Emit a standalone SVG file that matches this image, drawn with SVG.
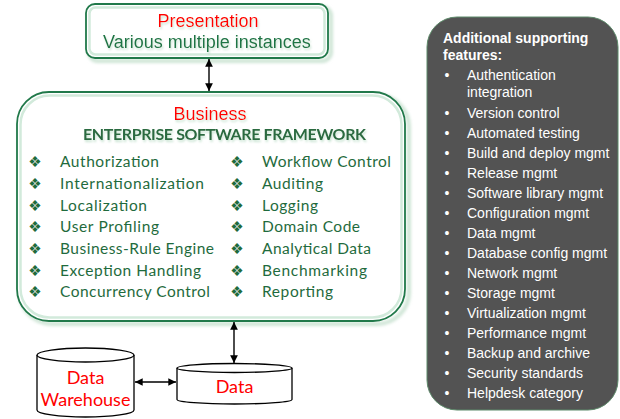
<svg xmlns="http://www.w3.org/2000/svg" width="620" height="419" viewBox="0 0 620 419">
  <defs>
    <style>
      .frame { fill: #ffffff; stroke: #21794a; stroke-width: 1.8; }
      .inner { fill: none; stroke: #d2eadb; stroke-width: 2.5; }
      .halo { fill: none; stroke: #cfe5d6; stroke-width: 4; }
      .red { fill: #ff0000; font-family: "Liberation Sans", Arial, sans-serif; }
      .grn { fill: #1f7545; font-family: "Liberation Sans", Arial, sans-serif; }
      .head { fill: #2a6a3f; font-family: Lato, "Open Sans", sans-serif; font-weight: bold; }
      .item { fill: #1f6b3d; font-family: Lato, "Open Sans", sans-serif; font-size: 15.5px; }
      .dia { fill: #1f6b3d; font-family: "DejaVu Sans", sans-serif; font-size: 15px; }
      .side { fill: #ffffff; font-family: "Liberation Sans", Arial, sans-serif; font-size: 14px; }
      .dot { fill: #ffffff; font-family: "Liberation Sans", Arial, sans-serif; font-size: 14px; }
      .cyl { fill: #ffffff; stroke: #000000; stroke-width: 1.3; }
      .db { fill: #ff0000; font-family: Lato, "Open Sans", sans-serif; font-size: 18px; text-anchor: middle; }
      .link { fill: none; stroke: #000000; stroke-width: 1.4; }
    </style>
    <filter id="soft" x="-10%" y="-10%" width="120%" height="130%">
      <feGaussianBlur stdDeviation="1.5"/>
    </filter>
    <filter id="tshadow" x="-5%" y="-30%" width="110%" height="170%">
      <feDropShadow dx="1" dy="2" stdDeviation="1" flood-color="#9ccfae" flood-opacity="0.55"/>
    </filter>
    <marker id="tip" viewBox="0 0 10 10" refX="10" refY="5" markerWidth="5.5" markerHeight="5.5" orient="auto-start-reverse">
      <path d="M0,0 L10,5 L0,10 z" fill="#000000"/>
    </marker>
  </defs>

  <!-- presentation tier -->
  <g id="presentation">
    <rect x="89" y="7" width="242" height="54" rx="9" class="halo" filter="url(#soft)"/>
    <rect x="86" y="4" width="242" height="54" rx="9" class="frame"/>
    <rect x="89.5" y="7.5" width="235" height="47" rx="6" class="inner"/>
    <g filter="url(#tshadow)">
      <text x="208" y="27" class="red" font-size="18" text-anchor="middle">Presentation</text>
      <text x="207" y="48" class="grn" font-size="18" text-anchor="middle">Various multiple instances</text>
    </g>
  </g>

  <!-- business tier -->
  <g id="business">
    <rect x="20" y="95" width="389" height="229" rx="32" class="halo" filter="url(#soft)"/>
    <rect x="17" y="92" width="388" height="229" rx="32" class="frame"/>
    <rect x="20.5" y="95.5" width="381" height="222" rx="29" class="inner"/>
    <g filter="url(#tshadow)">
      <text x="210" y="120" class="red" font-size="18" text-anchor="middle">Business</text>
      <text x="83" y="140" class="head" font-size="16" textLength="283">ENTERPRISE SOFTWARE FRAMEWORK</text>
    </g>
    <g class="dia" text-anchor="middle">
      <text x="35" y="167">❖</text><text x="35" y="189">❖</text><text x="35" y="211">❖</text>
      <text x="35" y="232">❖</text><text x="35" y="254">❖</text><text x="35" y="276">❖</text>
      <text x="35" y="297">❖</text>
      <text x="237" y="167">❖</text><text x="237" y="189">❖</text><text x="237" y="211">❖</text>
      <text x="237" y="232">❖</text><text x="237" y="254">❖</text><text x="237" y="276">❖</text>
      <text x="237" y="297">❖</text>
    </g>
    <g class="item">
      <text x="60" y="167" textLength="99">Authorization</text>
      <text x="60" y="189" textLength="144">Internationalization</text>
      <text x="60" y="211" textLength="87">Localization</text>
      <text x="60" y="232" textLength="99">User Profiling</text>
      <text x="60" y="254" textLength="154">Business-Rule Engine</text>
      <text x="60" y="276" textLength="141">Exception Handling</text>
      <text x="60" y="297" textLength="150">Concurrency Control</text>
      <text x="262" y="167" textLength="129">Workflow Control</text>
      <text x="262" y="189" textLength="61">Auditing</text>
      <text x="262" y="211" textLength="56">Logging</text>
      <text x="262" y="232" textLength="98">Domain Code</text>
      <text x="262" y="254" textLength="109">Analytical Data</text>
      <text x="262" y="276" textLength="105">Benchmarking</text>
      <text x="262" y="297" textLength="71">Reporting</text>
    </g>
  </g>

  <!-- supporting features panel -->
  <g id="features">
    <rect x="427" y="17" width="191" height="393" rx="30" fill="#535353" stroke="#5d8a6a" stroke-width="1"/>
    <text x="443" y="43" class="side" font-weight="bold">Additional supporting</text>
    <text x="443" y="60" class="side" font-weight="bold">features:</text>
    <g class="dot" text-anchor="middle">
      <text x="447" y="80">•</text><text x="447" y="118">•</text><text x="447" y="138">•</text>
      <text x="447" y="158">•</text><text x="447" y="178">•</text><text x="447" y="198">•</text>
      <text x="447" y="218">•</text><text x="447" y="238">•</text><text x="447" y="258">•</text>
      <text x="447" y="278">•</text><text x="447" y="298">•</text><text x="447" y="318">•</text>
      <text x="447" y="338">•</text><text x="447" y="358">•</text><text x="447" y="378">•</text>
      <text x="447" y="398">•</text>
    </g>
    <g class="side">
      <text x="467" y="80">Authentication</text>
      <text x="467" y="97">integration</text>
      <text x="467" y="118">Version control</text>
      <text x="467" y="138">Automated testing</text>
      <text x="467" y="158">Build and deploy mgmt</text>
      <text x="467" y="178">Release mgmt</text>
      <text x="467" y="198">Software library mgmt</text>
      <text x="467" y="218">Configuration mgmt</text>
      <text x="467" y="238">Data mgmt</text>
      <text x="467" y="258">Database config mgmt</text>
      <text x="467" y="278">Network mgmt</text>
      <text x="467" y="298">Storage mgmt</text>
      <text x="467" y="318">Virtualization mgmt</text>
      <text x="467" y="338">Performance mgmt</text>
      <text x="467" y="358">Backup and archive</text>
      <text x="467" y="378">Security standards</text>
      <text x="467" y="398">Helpdesk category</text>
    </g>
  </g>

  <!-- data warehouse store -->
  <g id="warehouse">
    <path d="M37,355 L37,410 A48.5,7 0 0 0 134,410 L134,355" class="cyl"/>
    <ellipse cx="85.5" cy="355" rx="48.5" ry="7" class="cyl"/>
    <text x="85.5" y="384" class="db">Data</text>
    <text x="85.5" y="406" class="db">Warehouse</text>
  </g>

  <!-- operational data store -->
  <g id="data">
    <path d="M177,368 L177,399.5 A57.5,4.5 0 0 0 292,399.5 L292,368" class="cyl"/>
    <ellipse cx="234.5" cy="368" rx="57.5" ry="4.5" class="cyl"/>
    <text x="234.5" y="393" class="db">Data</text>
  </g>

  <!-- connectors -->
  <g id="connectors">
    <line x1="209" y1="59" x2="209" y2="91" class="link" marker-start="url(#tip)" marker-end="url(#tip)"/>
    <line x1="234" y1="322" x2="234" y2="363" class="link" marker-start="url(#tip)" marker-end="url(#tip)"/>
    <line x1="135" y1="382" x2="176" y2="382" class="link" marker-start="url(#tip)" marker-end="url(#tip)"/>
  </g>
</svg>
